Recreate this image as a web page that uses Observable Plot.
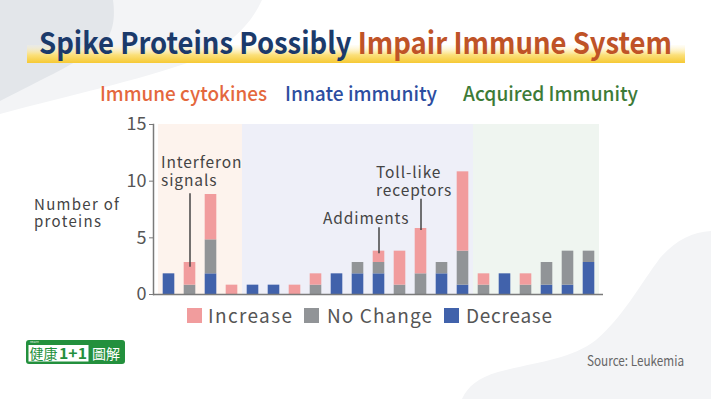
<!DOCTYPE html>
<html>
<head>
<meta charset="utf-8">
<script src="https://cdn.jsdelivr.net/npm/d3@7"></script>
<script src="https://cdn.jsdelivr.net/npm/@observablehq/plot@0.6"></script>
<style>
  html, body { margin: 0; padding: 0; background: #fff; }
  #page { position: relative; width: 711px; height: 399px; overflow: hidden; font-family: "Noto Sans CJK TC", "Noto Sans", sans-serif; }
  #bg, #chart svg { position: absolute; left: 0; top: 0; }
  #chart { position: absolute; left: 0; top: 0; width: 711px; height: 399px; }
</style>
</head>
<body>
<div id="page">
  <svg id="bg" width="711" height="399"></svg>
  <div id="chart"></div>
</div>
<script>
// ---------- data ----------
const proteins = ["P1","P2","P3","P4","P5","P6","P7","P8","P9","P10","P11","P12","P13","P14","P15","P16","P17","P18","P19","P20","P21"];
const decrease = [2,0,2,0,1,1,0,0,2,2,2,0,0,2,1,0,2,0,1,1,3];
const noChange = [0,1,3,0,0,0,0,1,0,1,1,1,2,1,3,1,0,1,2,3,1];
const increase = [0,2,4,1,0,0,1,1,0,0,1,3,4,0,7,1,0,1,0,0,0];
const seriesNames = ["Increase", "No Change", "Decrease"];
const seriesColors = ["#f19c9d", "#919497", "#4162ab"];
const groupNames = ["Immune cytokines", "Innate immunity", "Acquired Immunity"];
const groupSizes = [4, 11, 6];
const groupTextColors = ["#e4683d", "#2c4da0", "#3d7b37"];
const groupFills = ["#fdf3ed", "#eeeff8", "#eff5f0"];
const yTicks = [0, 5, 10, 15];
const yLabel = ["Number of", "proteins"];
const annotations = [
  {label: "Interferon\nsignals", protein: "P2", lo: 2.4, hi: 8.9, textY: 10.9},
  {label: "Addiments", protein: "P11", lo: 3.6, hi: 5.9, textY: 6.75},
  {label: "Toll-like\nreceptors", protein: "P13", lo: 5.65, hi: 8.4, textY: 10.0}
];
const titleParts = ["Spike Proteins Possibly ", "Impair Immune System"];
const sourceText = "Source: Leukemia";

// ---------- derived tables ----------
const groupOf = groupSizes.flatMap((n, g) => Array(n).fill(g));
const rows = proteins.flatMap((p, i) => [
  {protein: p, series: "Decrease", value: decrease[i]},
  {protein: p, series: "No Change", value: noChange[i]},
  {protein: p, series: "Increase", value: increase[i]}
]);
const annotDx = {"P2": -29, "P11": -56, "P13": -45};

// ---------- background / text layer ----------
const bg = d3.select("#bg");
const FONT = "Noto Sans CJK TC, Noto Sans, sans-serif";
bg.append("rect").attr("width", 711).attr("height", 399).attr("fill", "#ffffff");
bg.append("path").attr("fill", "#f3f4f6")
  .attr("d", "M0,0 H262 C248,30 225,48 190,62 C140,80 70,95 0,114 Z");
bg.append("path").attr("fill", "#e3e6ea")
  .attr("d", "M0,0 H113 C116,22 112,38 98,48 C78,62 45,78 0,101 Z");
bg.append("path").attr("fill", "#f3f4f6")
  .attr("d", "M462,399 C468,386 478,378 498,372 C535,362 570,360 596,340 C622,318 640,285 660,258 C676,240 692,232 711,231 V399 Z");

// title highlight
const defs = bg.append("defs");
const lg = defs.append("linearGradient").attr("id", "hl").attr("x1", 0).attr("y1", 0).attr("x2", 0).attr("y2", 1);
lg.append("stop").attr("offset", "0%").attr("stop-color", "#fff6d6").attr("stop-opacity", 0.2);
lg.append("stop").attr("offset", "55%").attr("stop-color", "#fbe07a");
lg.append("stop").attr("offset", "100%").attr("stop-color", "#f6c934");
bg.append("rect").attr("x", 27).attr("y", 45).attr("width", 658).attr("height", 18).attr("fill", "url(#hl)");

const title = bg.append("text").attr("x", 39).attr("y", 54)
  .attr("font-family", FONT).attr("font-size", 30).attr("font-weight", 700)
  .attr("textLength", 633).attr("lengthAdjust", "spacingAndGlyphs");
title.append("tspan").attr("fill", "#1b3a6b").text(titleParts[0]);
title.append("tspan").attr("fill", "#bf5327").text(titleParts[1]);

// group labels
const gx = [100, 285, 463], gw = [167, 152, 175];
groupNames.forEach((name, i) => {
  bg.append("text").attr("x", gx[i]).attr("y", 101)
    .attr("font-family", FONT).attr("font-size", 20).attr("font-weight", 500)
    .attr("fill", groupTextColors[i])
    .attr("textLength", gw[i]).attr("lengthAdjust", "spacingAndGlyphs")
    .text(name);
});

// y label
yLabel.forEach((t, i) => {
  bg.append("text").attr("x", 34).attr("y", 210 + i * 17)
    .attr("font-family", FONT).attr("font-size", 15).attr("fill", "#444")
    .attr("letter-spacing", 1.3)
    .text(t);
});

// legend
const lsx = [187, 304, 444], ltx = [208, 327, 466], ltw = [84, 105, 86];
seriesNames.forEach((s, i) => {
  bg.append("rect").attr("x", lsx[i]).attr("y", 308).attr("width", 15).attr("height", 15).attr("fill", seriesColors[i]);
  bg.append("text").attr("x", ltx[i]).attr("y", 323)
    .attr("font-family", FONT).attr("font-size", 19).attr("fill", "#555")
    .attr("textLength", ltw[i]).attr("lengthAdjust", "spacing")
    .text(s);
});

// source
bg.append("text").attr("x", 587).attr("y", 366)
  .attr("font-family", FONT).attr("font-size", 14).attr("fill", "#666")
  .attr("textLength", 97).attr("lengthAdjust", "spacingAndGlyphs")
  .text(sourceText);

// logo
const logo = bg.append("g");
logo.append("rect").attr("x", 26).attr("y", 340).attr("width", 99).attr("height", 24).attr("rx", 3).attr("fill", "#23903d");
logo.append("rect").attr("x", 28.5).attr("y", 345).attr("width", 60).attr("height", 16.5).attr("fill", "#ffffff");
logo.append("text").attr("x", 29.5).attr("y", 359).attr("font-family", FONT).attr("font-size", 14).attr("fill", "#23903d")
  .text("健康");
logo.append("text").attr("x", 59).attr("y", 359).attr("font-family", FONT).attr("font-size", 15).attr("font-weight", 700).attr("fill", "#23903d")
  .attr("textLength", 28).attr("lengthAdjust", "spacingAndGlyphs").text("1+1");
logo.append("text").attr("x", 92).attr("y", 359).attr("font-family", FONT).attr("font-size", 14).attr("fill", "#ffffff")
  .text("圖解");
logo.append("text").attr("x", 30).attr("y", 342.6).attr("font-family", FONT).attr("font-size", 2.4).attr("fill", "#ffffff")
  .text("HEALTH");

// ---------- chart ----------
const groupBars = groupNames.map((g, gi) =>
  Plot.barY(proteins.filter((p, i) => groupOf[i] === gi), {x: d => d, y: 15, fill: groupFills[gi]})
);

const annotTexts = annotations.map(a =>
  Plot.text([a], {
    x: "protein", y: "textY", text: "label",
    textAnchor: "start", lineAnchor: "middle", lineHeight: 1.15,
    dx: annotDx[a.protein], fontSize: 15.5, fill: "#444",
    ariaLabel: "annotation"
  })
);

const chart = Plot.plot({
  width: 711,
  height: 399,
  marginTop: 124,
  marginBottom: 105,
  marginLeft: 153,
  marginRight: 108,
  style: {background: "transparent", fontFamily: FONT, overflow: "visible"},
  x: {type: "band", domain: proteins, paddingInner: 0, paddingOuter: 0.17, axis: null},
  y: {domain: [0, 15], axis: null},
  color: {domain: seriesNames, range: seriesColors},
  marks: [
    ...groupBars,
    Plot.barY(rows, {
      x: "protein", y: "value", fill: "series",
      order: ["Decrease", "No Change", "Increase"],
      insetLeft: 4.7, insetRight: 4.7, dy: 2
    }),
    Plot.ruleY([0], {stroke: "#ffffff", strokeWidth: 3, dy: 2}),
    Plot.ruleY([0], {stroke: "#7a7a7a", strokeWidth: 1.5}),
    Plot.frame({anchor: "left", stroke: "#7a7a7a", strokeWidth: 1.5}),
    Plot.axisY(yTicks, {
      anchor: "left", tickSize: 4, tickPadding: 3, fontSize: 18,
      stroke: "#7a7a7a", fill: "#555", label: null
    }),
    Plot.ruleX(annotations, {x: "protein", y1: "lo", y2: "hi", stroke: "#444", strokeWidth: 1.5}),
    ...annotTexts
  ]
});
document.getElementById("chart").appendChild(chart);

// letter spacing for the annotation labels (as in the reference)
const annotLines = new Set(annotations.flatMap(a => a.label.split("\n")));
d3.select(chart).selectAll("text").each(function () {
  const t = this.textContent;
  const lines = [...this.querySelectorAll("tspan")].map(s => s.textContent);
  if (annotLines.has(t) || (lines.length && lines.every(l => annotLines.has(l)))) {
    d3.select(this).attr("letter-spacing", 0.9);
  }
});
</script>
</body>
</html>
